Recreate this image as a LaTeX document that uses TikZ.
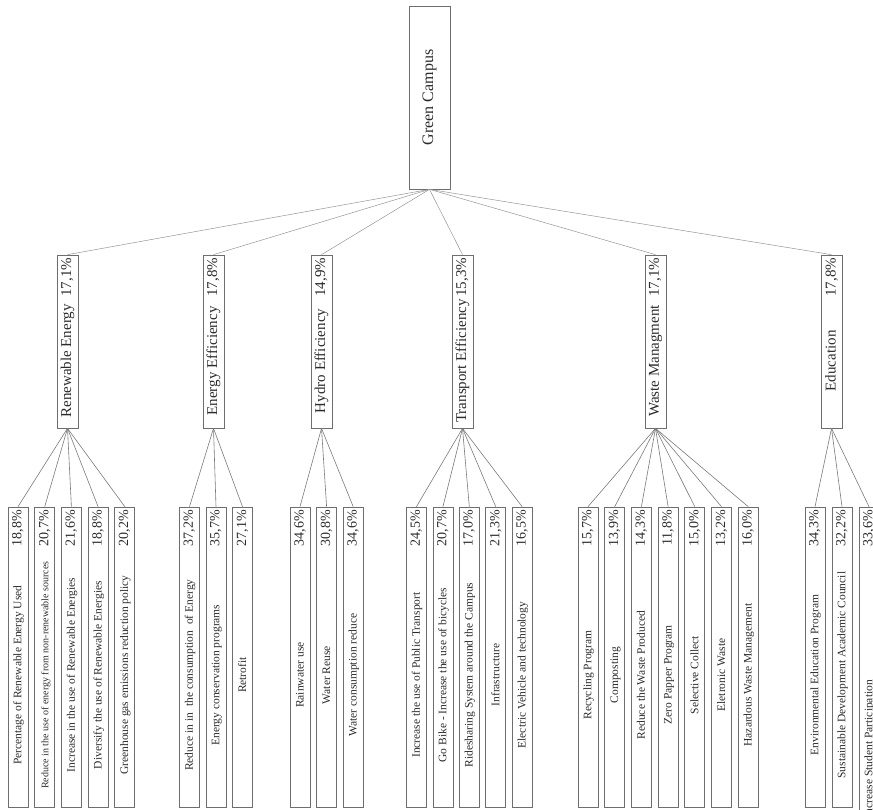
\documentclass[tikz,border=0pt]{standalone}
\usepackage{fontspec}
\setmainfont{Liberation Serif}

\definecolor{boxgray}{HTML}{6E6E6E}
\definecolor{linegray}{HTML}{7A7A7A}
\definecolor{inkgray}{HTML}{2B2B2B}

\newcommand{\pctfont}{\fontsize{14}{16}\selectfont}
\newcommand{\catlabel}[2]{\hbox to 167pt{\hfill #1\hfill #2}}
\newcommand{\leaflabel}[2]{\hbox to 294pt{\hfill #1\hfill\pctfont #2}}

\begin{document}
\begin{tikzpicture}[
    x=1pt, y=-1pt,
    every node/.style={text=inkgray},
    root/.style={draw=boxgray, line width=0.7pt, rotate=90, minimum width=183pt,
                 minimum height=41pt, font=\fontsize{16}{18}\selectfont},
    cat/.style={draw=boxgray, line width=0.7pt, rotate=90, minimum height=21pt,
                inner xsep=3pt, inner ysep=0pt, font=\fontsize{15}{17}\selectfont},
    leaf/.style={draw=boxgray, line width=0.7pt, rotate=90, minimum height=20pt,
                 inner xsep=3pt, inner ysep=0pt, font=\fontsize{11.5}{13}\selectfont},
    link/.style={draw=linegray, line width=0.6pt},
    toplink/.style={draw=linegray!80, line width=0.5pt}
]
\clip (0,0) rectangle (873,809);

\node[root] (campus) at (429.5,97.5) {Green Campus};

\node[cat] (ren) at (67.5,341.5)  {\catlabel{Renewable Energy}{17,1\%}};
\node[cat] (eff) at (213.5,341.5) {\catlabel{Energy Efficiency}{17,8\%}};
\node[cat] (hyd) at (321.5,341.5) {\catlabel{Hydro Efficiency}{14,9\%}};
\node[cat] (tra) at (462.5,341.5) {\catlabel{Transport Efficiency}{15,3\%}};
\node[cat] (was) at (655.5,341.5) {\catlabel{Waste Managment}{17,1\%}};
\node[cat] (edu) at (831.5,341.5) {\catlabel{Education}{17,8\%}};

% indicators
\foreach \t/\p [count=\i] in {
    Percentage of Renewable Energy Used/{18,8\%},
    {{\fontsize{10}{12}\selectfont Reduce in the use of energy from non-renewable sources}}/{20,7\%},
    Increase in the use of Renewable Energies/{21,6\%},
    Diversify the use of Renewable Energies/{18,8\%},
    Greenhouse gas emissions reduction policy/{20,2\%}}
  \node[leaf] (renl\i) at ({18+26.7*(\i-1)},657) {\leaflabel{\t}{\p}};

\foreach \t/\p [count=\i] in {
    Reduce in in\ \ the consumption\ \ of Energy/{37,2\%},
    Energy conservation programs/{35,7\%},
    Retrofit/{27,1\%}}
  \node[leaf] (effl\i) at ({189.5+26.5*(\i-1)},657) {\leaflabel{\t}{\p}};

\foreach \t/\p [count=\i] in {
    Rainwater use/{34,6\%},
    Water Reuse/{30,8\%},
    Water consumption reduce/{34,6\%}}
  \node[leaf] (hydl\i) at ({300+26.6*(\i-1)},657) {\leaflabel{\t}{\p}};

\foreach \t/\p [count=\i] in {
    Increase the use of Public Transport/{24,5\%},
    Go Bike - Increase the use of bicycles/{20,7\%},
    Ridesharing System around the Campus/{17,0\%},
    Infrastructure/{21,3\%},
    Electric Vehicle and technology/{16,5\%}}
  \node[leaf] (tral\i) at ({416.5+26.4*(\i-1)},657) {\leaflabel{\t}{\p}};

\foreach \t/\p [count=\i] in {
    Recycling Program/{15,7\%},
    Composting/{13,9\%},
    Reduce the Waste Produced/{14,3\%},
    Zero Papper Program/{11,8\%},
    Selective Collect/{15,0\%},
    Eletronic Waste/{13,2\%},
    Hazardous Waste Management/{16,0\%}}
  \node[leaf] (wasl\i) at ({588+26.7*(\i-1)},657) {\leaflabel{\t}{\p}};

\foreach \t/\p [count=\i] in {
    Environmental Education Program/{34,3\%},
    Sustainable Development Academic Council/{32,2\%}}
  \node[leaf] (edul\i) at ({815+27*(\i-1)},657) {\leaflabel{\t}{\p}};
% last one runs past the bottom edge
\node[leaf] (edul3) at (869,683.5)
  {\hbox to 347pt{\hskip 39pt Increase Student Participation\hfill\pctfont 33,6\%}};

% links
\foreach \c in {ren, eff, hyd, tra, was, edu} \draw[toplink] (campus.west) -- (\c.east);
\foreach \i in {1,...,5} \draw[link] (ren.west) -- (renl\i.east);
\foreach \i in {1,...,3} \draw[link] (eff.west) -- (effl\i.east);
\foreach \i in {1,...,3} \draw[link] (hyd.west) -- (hydl\i.east);
\foreach \i in {1,...,5} \draw[link] (tra.west) -- (tral\i.east);
\foreach \i in {1,...,7} \draw[link] (was.west) -- (wasl\i.east);
\foreach \i in {1,...,3} \draw[link] (edu.west) -- (edul\i.east);
\end{tikzpicture}
\end{document}
